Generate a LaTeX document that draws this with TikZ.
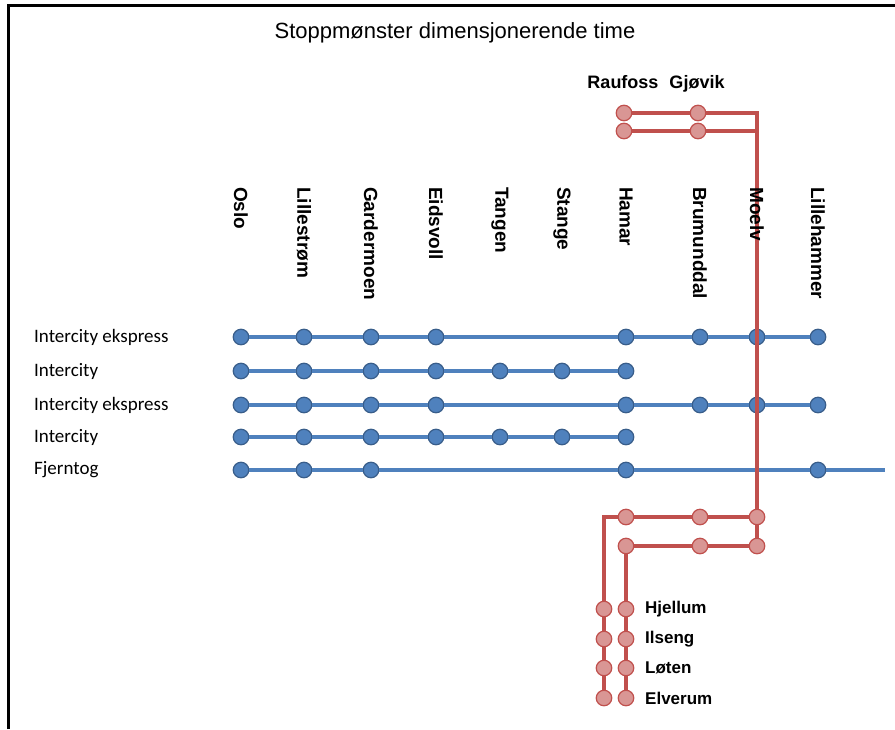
\documentclass[tikz,border=0pt]{standalone}
\usepackage{fontspec}
\setmainfont{Liberation Sans}
\newfontfamily\calibri{Carlito}
\usepackage{tikz}

\definecolor{icblue}{RGB}{79,129,189}
\definecolor{icblueline}{RGB}{56,93,138}
\definecolor{lokred}{RGB}{217,150,148}
\definecolor{lokredline}{RGB}{192,80,77}

\begin{document}
\begin{tikzpicture}[x=1pt,y=-1pt]
\tikzstyle{every node}+=[inner sep=0pt]
\tikzstyle{bstop}=[circle,minimum size=15.5pt,fill=icblue,draw=icblueline,line width=1.2pt]
\tikzstyle{rstop}=[circle,minimum size=15.5pt,fill=lokred,draw=lokredline,line width=1.2pt]
\tikzstyle{bline}=[draw=icblue,line width=3.4pt]
\tikzstyle{rline}=[draw=lokredline,line width=3.4pt]
\tikzstyle{stasjon}=[rotate=-90,anchor=west,font=\bfseries\fontsize{19}{22}\selectfont]
\tikzstyle{rute}=[anchor=west,font=\calibri\fontsize{19}{22}\selectfont]
\tikzstyle{lokal}=[anchor=west,font=\bfseries\fontsize{17}{20}\selectfont]
\useasboundingbox (0,0) rectangle (895,729);
\draw [black,line width=3pt] (8,729) -- (8,5) -- (895,5);
\node [anchor=base] (tittel) at (455,38) {\fontsize{22}{26}\selectfont Stoppmønster dimensjonerende time};
% stasjonsnavn
\node [stasjon] (oslo) at (241,187) {Oslo};
\node [stasjon] (lillestrom) at (304,187) {Lillestrøm};
\node [stasjon] (gardermoen) at (371,187) {Gardermoen};
\node [stasjon] (eidsvoll) at (436,187) {Eidsvoll};
\node [stasjon] (tangen) at (500,187) {Tangen};
\node [stasjon] (stange) at (562,187) {Stange};
\node [stasjon] (hamar) at (626,187) {Hamar};
\node [stasjon] (brumunddal) at (700,187) {Brumunddal};
\node [stasjon] (lillehammer) at (818,187) {Lillehammer};
% rutenavn
\node [rute] (rute1) at (34,337) {Intercity ekspress};
\node [rute] (rute2) at (34,371) {Intercity};
\node [rute] (rute3) at (34,405) {Intercity ekspress};
\node [rute] (rute4) at (34,437) {Intercity};
\node [rute] (rute5) at (34,470) {Fjerntog};
% Intercity ekspress
\node [bstop] (a1) at (241,337) {};
\node [bstop] (a2) at (304,337) {};
\node [bstop] (a3) at (371,337) {};
\node [bstop] (a4) at (436,337) {};
\node [bstop] (a7) at (626,337) {};
\node [bstop] (a8) at (700,337) {};
\node [bstop] (a9) at (757,337) {};
\node [bstop] (a10) at (818,337) {};
\draw [bline] (a1) -- (a2) -- (a3) -- (a4) -- (a7) -- (a8) -- (a9) -- (a10);
% Intercity
\node [bstop] (b1) at (241,371) {};
\node [bstop] (b2) at (304,371) {};
\node [bstop] (b3) at (371,371) {};
\node [bstop] (b4) at (436,371) {};
\node [bstop] (b5) at (500,371) {};
\node [bstop] (b6) at (562,371) {};
\node [bstop] (b7) at (626,371) {};
\draw [bline] (b1) -- (b2) -- (b3) -- (b4) -- (b5) -- (b6) -- (b7);
% Intercity ekspress
\node [bstop] (c1) at (241,405) {};
\node [bstop] (c2) at (304,405) {};
\node [bstop] (c3) at (371,405) {};
\node [bstop] (c4) at (436,405) {};
\node [bstop] (c7) at (626,405) {};
\node [bstop] (c8) at (700,405) {};
\node [bstop] (c9) at (757,405) {};
\node [bstop] (c10) at (818,405) {};
\draw [bline] (c1) -- (c2) -- (c3) -- (c4) -- (c7) -- (c8) -- (c9) -- (c10);
% Intercity
\node [bstop] (d1) at (241,437) {};
\node [bstop] (d2) at (304,437) {};
\node [bstop] (d3) at (371,437) {};
\node [bstop] (d4) at (436,437) {};
\node [bstop] (d5) at (500,437) {};
\node [bstop] (d6) at (562,437) {};
\node [bstop] (d7) at (626,437) {};
\draw [bline] (d1) -- (d2) -- (d3) -- (d4) -- (d5) -- (d6) -- (d7);
% Fjerntog
\node [bstop] (e1) at (241,470) {};
\node [bstop] (e2) at (304,470) {};
\node [bstop] (e3) at (371,470) {};
\node [bstop] (e7) at (626,470) {};
\node [bstop] (e10) at (818,470) {};
\coordinate (eslutt) at (885,470);
\draw [bline] (e1) -- (e2) -- (e3) -- (e7) -- (e10) -- (eslutt);
% Gjøvikbanen
\node [anchor=base] (raufoss) at (623,88) {\bfseries\fontsize{18}{21}\selectfont Raufoss};
\node [anchor=base] (gjovik) at (697,88) {\bfseries\fontsize{18}{21}\selectfont Gjøvik};
\coordinate (hjorne1) at (757,113);
\coordinate (knute1) at (757,131);
\coordinate (hjorne2) at (604,517);
\node [rstop] (g1) at (624,113) {};
\node [rstop] (g2) at (698,113) {};
\node [rstop] (h1) at (624,131) {};
\node [rstop] (h2) at (698,131) {};
\node [rstop] (m1) at (757,517) {};
\node [rstop] (m2) at (700,517) {};
\node [rstop] (m3) at (626,517) {};
\node [rstop] (n1) at (757,546) {};
\node [rstop] (n2) at (700,546) {};
\node [rstop] (n3) at (626,546) {};
\node [rstop] (p1) at (604,609) {};
\node [rstop] (p2) at (604,639) {};
\node [rstop] (p3) at (604,668) {};
\node [rstop] (p4) at (604,698) {};
\node [rstop] (q1) at (626,609) {};
\node [rstop] (q2) at (626,639) {};
\node [rstop] (q3) at (626,668) {};
\node [rstop] (q4) at (626,698) {};
\draw [rline] (g1) -- (g2) -- (hjorne1) -- (m1);
\draw [rline] (h1) -- (h2) -- (knute1);
\draw [rline] (m1) -- (n1);
\draw [rline] (m1) -- (m2) -- (m3) -- (hjorne2) -- (p1) -- (p2) -- (p3) -- (p4);
\draw [rline] (n1) -- (n2) -- (n3) -- (q1) -- (q2) -- (q3) -- (q4);
% Moelv over linja
\node [stasjon] (moelv) at (757,187) {Moelv};
\node [lokal] (hjellum) at (645,609) {Hjellum};
\node [lokal] (ilseng) at (645,639) {Ilseng};
\node [lokal] (loten) at (645,668) {Løten};
\node [lokal] (elverum) at (645,698) {Elverum};
\end{tikzpicture}
\end{document}
